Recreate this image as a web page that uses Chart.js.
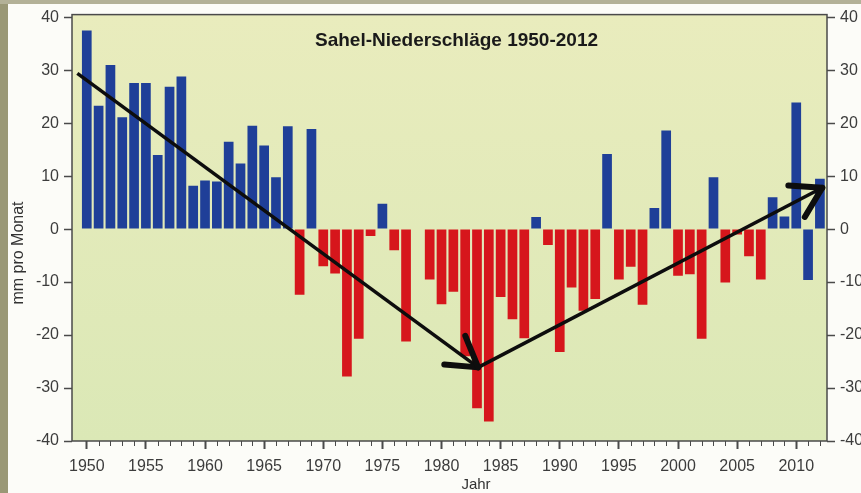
<!DOCTYPE html>
<html>
<head>
<meta charset="utf-8">
<script src="https://cdn.jsdelivr.net/npm/chart.js@4.4.1/dist/chart.umd.min.js"></script>
<style>
  html, body { margin: 0; padding: 0; background: #fcfcf8; }
</style>
</head>
<body>
<canvas id="myChart" width="861" height="493"></canvas>
<script>
const years = [
    1950, 1951, 1952, 1953, 1954, 1955, 1956, 1957, 1958, 1959,
    1960, 1961, 1962, 1963, 1964, 1965, 1966, 1967, 1968, 1969,
    1970, 1971, 1972, 1973, 1974, 1975, 1976, 1977, 1978, 1979,
    1980, 1981, 1982, 1983, 1984, 1985, 1986, 1987, 1988, 1989,
    1990, 1991, 1992, 1993, 1994, 1995, 1996, 1997, 1998, 1999,
    2000, 2001, 2002, 2003, 2004, 2005, 2006, 2007, 2008, 2009,
    2010, 2011, 2012
];
// Niederschlagsanomalie, mm pro Monat
const rainfall = [
    37.5, 23.3, 31.0, 21.1, 27.6, 27.6, 14.0, 26.9, 28.8, 8.2,
    9.2, 9.0, 16.5, 12.4, 19.5, 15.8, 9.8, 19.4, -12.4, 18.9,
    -7.0, -8.4, -27.8, -20.7, -1.3, 4.8, -4.0, -21.2, 0, -9.5,
    -14.2, -11.8, -24.0, -33.8, -36.3, -12.8, -17.0, -20.6, 2.3, -3.0,
    -23.2, -11.0, -15.4, -13.2, 14.2, -9.5, -7.1, -14.3, 4.0, 18.6,
    -8.8, -8.5, -20.7, 9.8, -10.1, -1.0, -5.1, -9.5, 6.0, 2.4,
    23.9, -9.6, 9.5
];
// years drawn blue although below zero
const blueYears = [2011];
// trend arrows (Jahr, mm)
const trendDown = [{x: 1949.2, y: 29.4}, {x: 1983.1, y: -26.1}];
const trendUp = [{x: 1983.1, y: -26.1}, {x: 2012.2, y: 7.8}];

const BLUE = '#1f3f98';
const RED = '#d6161c';
const FONT = "'Liberation Sans', Arial, sans-serif";

const decor = {
    id: 'decor',
    beforeDraw(chart) {
        const {ctx, chartArea: a, width, height} = chart;
        ctx.save();
        ctx.fillStyle = '#fcfcf8';
        ctx.fillRect(0, 0, width, height);
        ctx.fillStyle = '#9a9876';
        ctx.fillRect(0, 0, 8, height);
        ctx.fillStyle = '#b3b197';
        ctx.fillRect(0, 0, width, 4);
        const g = ctx.createLinearGradient(0, a.top, 0, a.bottom);
        g.addColorStop(0, '#e9ecbd');
        g.addColorStop(1, '#dbe8b6');
        ctx.fillStyle = g;
        ctx.fillRect(a.left, a.top, a.right - a.left, a.bottom - a.top);
        ctx.restore();
    },
    afterDatasetsDraw(chart) {
        const ctx = chart.ctx;
        ctx.save();
        ctx.strokeStyle = '#0d0d0d';
        ctx.lineWidth = 6;
        ctx.lineCap = 'round';
        [0, 1].forEach(i => {
            const pts = chart.getDatasetMeta(i).data;
            const p0 = pts[0], p1 = pts[1];
            const ang = Math.atan2(p0.y - p1.y, p0.x - p1.x);
            [-0.55, 0.55].forEach(d => {
                ctx.beginPath();
                ctx.moveTo(p1.x, p1.y);
                ctx.lineTo(p1.x + 34 * Math.cos(ang + d), p1.y + 34 * Math.sin(ang + d));
                ctx.stroke();
            });
        });
        ctx.restore();
    },
    afterDraw(chart) {
        const {ctx, chartArea: a} = chart;
        const x = chart.scales.x;
        ctx.save();
        ctx.strokeStyle = '#4a4a4a';
        ctx.lineWidth = 1.5;
        ctx.strokeRect(a.left, a.top, a.right - a.left, a.bottom - a.top);
        // minor year ticks
        ctx.lineWidth = 1;
        years.forEach(yr => {
            if (yr % 5 === 0) return;
            const px = Math.round(x.getPixelForValue(yr)) + 0.5;
            ctx.beginPath();
            ctx.moveTo(px, a.bottom);
            ctx.lineTo(px, a.bottom + 5);
            ctx.stroke();
        });
        ctx.fillStyle = '#1a1a1a';
        ctx.textAlign = 'center';
        ctx.textBaseline = 'middle';
        ctx.font = 'bold 19px ' + FONT;
        ctx.fillText('Sahel-Niederschläge 1950-2012', (a.left + a.right) / 2 + 7, 41);
        ctx.fillStyle = '#333';
        ctx.font = '15px ' + FONT;
        ctx.fillText('Jahr', 476, 485);
        ctx.font = '16px ' + FONT;
        ctx.translate(19, 253);
        ctx.rotate(-Math.PI / 2);
        ctx.fillText('mm pro Monat', 0, 0);
        ctx.restore();
    }
};

const tickFont = {family: FONT, size: 16};
const yAxis = (pos, w) => ({
    type: 'linear',
    position: pos,
    min: -40,
    max: 40.5,
    afterFit: s => { s.width = w; },
    border: {display: false},
    grid: {drawOnChartArea: false, tickLength: 8, tickWidth: 1.5, tickColor: '#4a4a4a'},
    ticks: {stepSize: 10, includeBounds: false, padding: 5, color: '#3c3c3c', font: tickFont}
});

new Chart(document.getElementById('myChart'), {
    data: {
        datasets: [
            {type: 'line', data: trendDown, borderColor: '#0d0d0d', borderWidth: 3.5, pointRadius: 0, order: 0},
            {type: 'line', data: trendUp, borderColor: '#0d0d0d', borderWidth: 3.5, pointRadius: 0, order: 0},
            {
                type: 'bar',
                data: years.map((yr, i) => ({x: yr, y: rainfall[i]})),
                backgroundColor: c => {
                    const v = c.raw;
                    if (!v) return BLUE;
                    return (v.y >= 0 || blueYears.includes(v.x)) ? BLUE : RED;
                },
                barPercentage: 0.82,
                categoryPercentage: 1,
                order: 1
            }
        ]
    },
    options: {
        responsive: false,
        animation: false,
        devicePixelRatio: 1,
        layout: {padding: {top: 12, left: 0, right: 0, bottom: 0}},
        plugins: {legend: {display: false}, tooltip: {enabled: false}},
        scales: {
            x: {
                type: 'linear',
                min: 1948.75,
                max: 2012.6,
                offset: false,
                afterFit: s => { s.height = 52; },
                border: {display: false},
                grid: {drawOnChartArea: false, offset: false, tickLength: 8, tickWidth: 2, tickColor: '#4a4a4a'},
                ticks: {stepSize: 5, includeBounds: false, autoSkip: false, maxRotation: 0, padding: 8,
                        color: '#3c3c3c', font: tickFont, callback: v => String(v)}
            },
            y: yAxis('left', 72),
            y2: yAxis('right', 34)
        }
    },
    plugins: [decor]
});
</script>
</body>
</html>
